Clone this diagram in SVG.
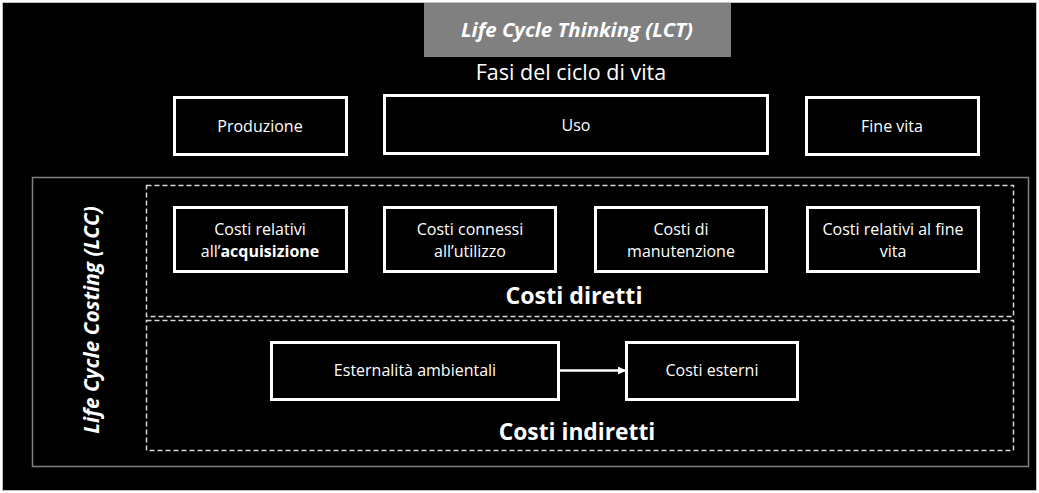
<svg xmlns="http://www.w3.org/2000/svg" width="1039" height="493" viewBox="0 0 1039 493">
<defs>
<style>
.t{font-family:"Open Sans","Liberation Sans",sans-serif;fill:#ffffff;text-anchor:middle}
.box{fill:#000;stroke:#fff;stroke-width:3}
.dash{fill:none;stroke:#d9d9d9;stroke-width:1.5;stroke-dasharray:5 3}
.s14{font-size:16px}
</style>
<marker id="arr" markerWidth="8" markerHeight="8" refX="7" refY="4" orient="auto" markerUnits="userSpaceOnUse">
<path d="M0,0 L8,4 L0,8 z" fill="#fff"/>
</marker>
</defs>
<rect x="0" y="0" width="1039" height="493" fill="#ffffff"/>
<rect x="2.5" y="2.5" width="1034" height="488" fill="#000" stroke="#bfbfbf" stroke-width="1"/>
<g id="lct">
<rect x="424" y="3" width="307" height="54" fill="#808080"/>
<text class="t" x="577" y="37" font-size="20.4" font-weight="bold" font-style="italic">Life Cycle Thinking (LCT)</text>
</g>
<text class="t" x="571" y="80" font-size="21.5">Fasi del ciclo di vita</text>
<g id="produzione"><rect class="box" x="174.5" y="97.5" width="172" height="57"/><text class="t s14" x="260" y="131.5">Produzione</text></g>
<g id="uso"><rect class="box" x="384.5" y="95.5" width="383" height="58"/><text class="t s14" x="576" y="130.5">Uso</text></g>
<g id="finevita"><rect class="box" x="806.5" y="97.5" width="172" height="57"/><text class="t s14" x="892" y="131.5">Fine vita</text></g>
<g id="lcc">
<rect x="32.5" y="177.5" width="996" height="289" fill="none" stroke="#808080" stroke-width="1.5"/>
<text class="t" transform="translate(99,320) rotate(-90)" font-size="20.8" font-weight="bold" font-style="italic">Life Cycle Costing (LCC)</text>
</g>
<g id="diretti">
<rect class="dash" x="146.5" y="185.5" width="867" height="131"/>
<text class="t" x="574" y="304" font-size="23.2" font-weight="bold">Costi diretti</text>
</g>
<g id="indiretti">
<rect class="dash" x="146.5" y="320.5" width="867" height="130"/>
<text class="t" x="577" y="440" font-size="22.8" font-weight="bold">Costi indiretti</text>
</g>
<g id="acquisizione"><rect class="box" x="174.5" y="207.5" width="172" height="64"/><text class="t s14" x="260" y="235">Costi relativi</text><text class="t s14" x="260" y="257">all’<tspan font-weight="bold">acquisizione</tspan></text></g>
<g id="utilizzo"><rect class="box" x="384.5" y="207.5" width="171" height="64"/><text class="t s14" x="470" y="235">Costi connessi</text><text class="t s14" x="470" y="257">all’utilizzo</text></g>
<g id="manutenzione"><rect class="box" x="595.5" y="207.5" width="171" height="64"/><text class="t s14" x="681" y="235">Costi di</text><text class="t s14" x="681" y="257">manutenzione</text></g>
<g id="finevitacosti"><rect class="box" x="807.5" y="207.5" width="171" height="64"/><text class="t s14" x="893" y="235">Costi relativi al fine</text><text class="t s14" x="893" y="257">vita</text></g>
<g id="esternalita"><rect class="box" x="271.5" y="342.5" width="287" height="57"/><text class="t s14" x="415" y="376">Esternalità ambientali</text></g>
<g id="esterni"><rect class="box" x="626.5" y="342.5" width="171" height="57"/><text class="t s14" x="712" y="376">Costi esterni</text></g>
<g id="connectors">
<line x1="559" y1="370.5" x2="625" y2="370.5" stroke="#fff" stroke-width="2.5" marker-end="url(#arr)"/>
</g>
</svg>
